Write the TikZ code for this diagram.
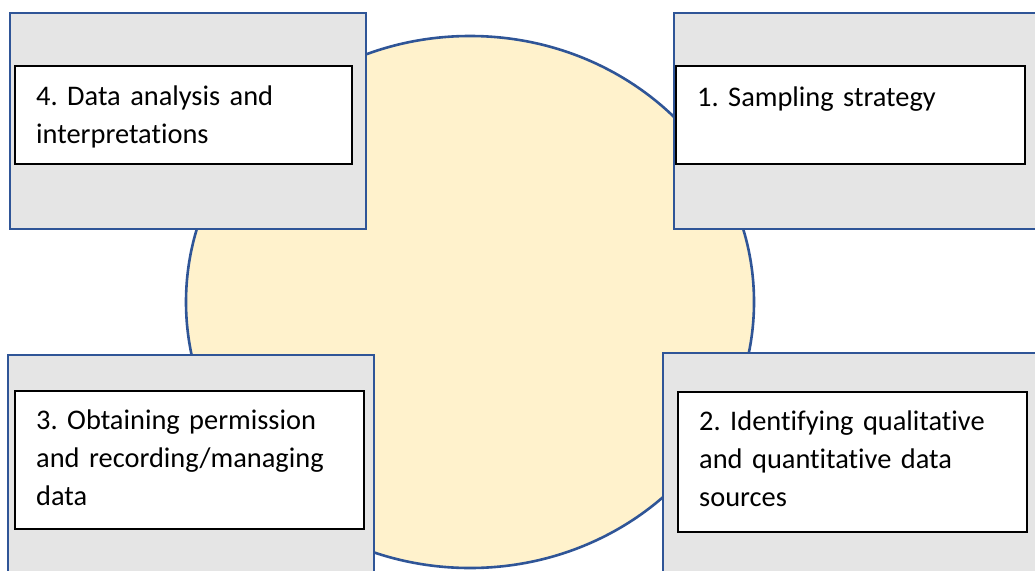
\documentclass[tikz,border=0pt]{standalone}
\usepackage{fontspec}
\setmainfont[Ligatures=NoCommon]{Carlito}
\frenchspacing
\definecolor{ringfill}{HTML}{FFF2CC}
\definecolor{ringline}{HTML}{2F5597}
\definecolor{panelfill}{HTML}{E5E5E5}
\begin{document}
\begin{tikzpicture}[x=1pt,y=-1pt,
  panel/.style={draw=ringline,line width=2.6pt,fill=panelfill},
  card/.style={draw=black,line width=1.7pt,fill=white},
  label/.style={anchor=base west,inner sep=0pt,text width=330pt,align=left,
    font=\fontsize{28.4}{38}\selectfont}]
  \useasboundingbox (0,0) rectangle (1035,570);
  \clip (0,0) rectangle (1035,570);
  % central disc
  \draw[ringline,line width=2.6pt,fill=ringfill] (470,302) ellipse [x radius=284,y radius=266];
  % grey panels (the outer ones run past the page edges)
  \draw[panel] (10,13) rectangle (366,229);
  \draw[panel] (674,13) rectangle (1050,229);
  \draw[panel] (8,355) rectangle (374,590);
  \draw[panel] (663,353) rectangle (1050,590);
  % white cards
  \draw[card] (15,66) rectangle (352,164);
  \draw[card] (676,66) rectangle (1025,164);
  \draw[card] (15,391) rectangle (364,529);
  \draw[card] (678,392) rectangle (1027,532);
  % captions
  \node[label] (t4) at (36,105) {4. Data analysis and\\interpretations};
  \node[label] (t1) at (697,106) {1. Sampling strategy};
  \node[label] (t3) at (36,429) {3. Obtaining permission\\and recording/managing\\data};
  \node[label] (t2) at (699,430) {2. Identifying qualitative\\and quantitative data\\sources};
\end{tikzpicture}
\end{document}
